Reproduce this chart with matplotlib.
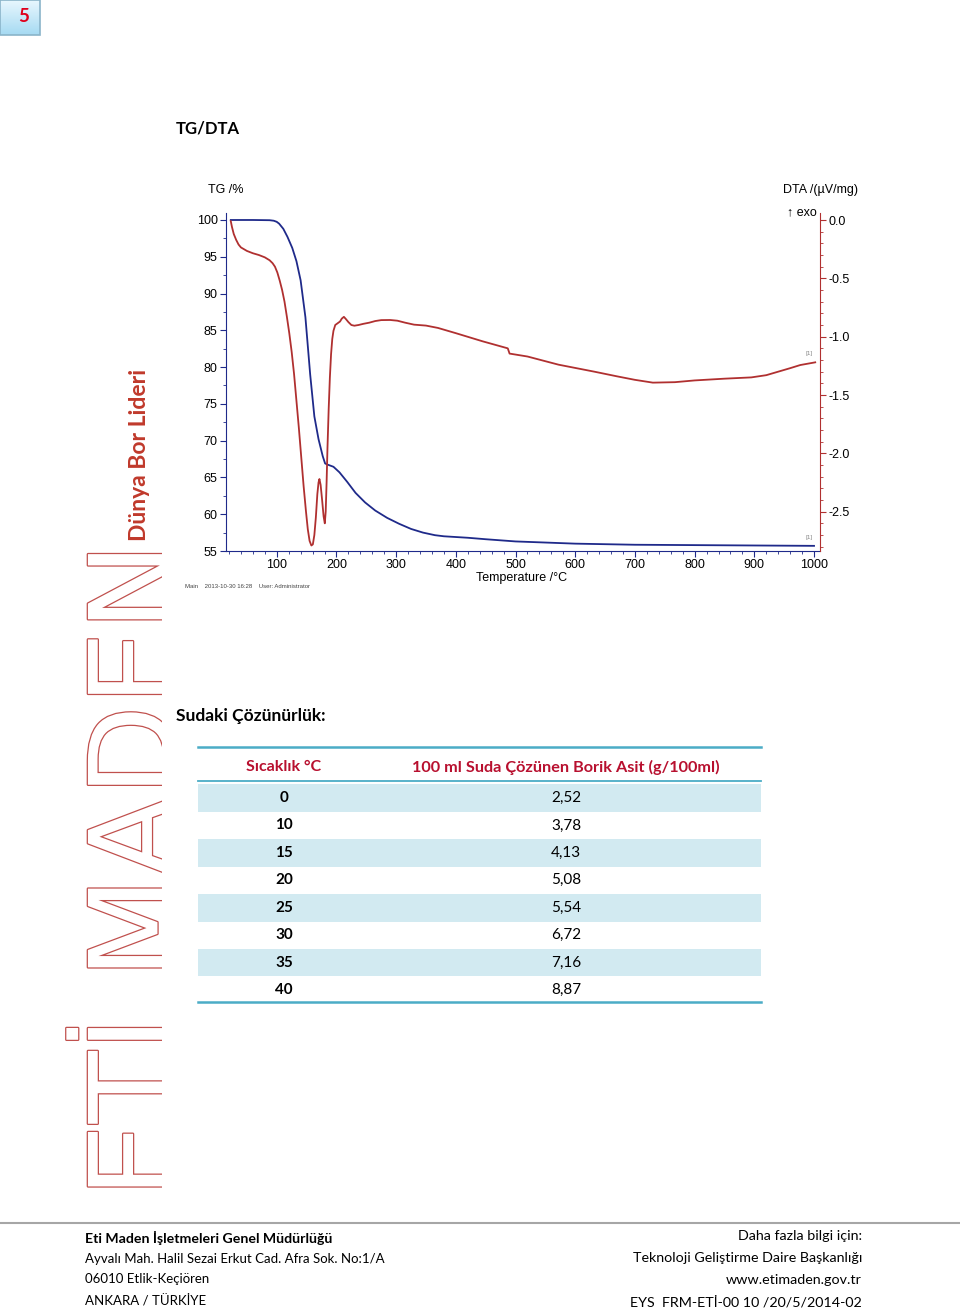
import matplotlib
matplotlib.use('Agg')
import matplotlib.pyplot as plt
import numpy as np
from matplotlib.patches import Rectangle
import matplotlib.patheffects as pe
from matplotlib.ticker import MultipleLocator, FormatStrFormatter

plt.rcParams['axes.unicode_minus'] = False

# TG curve (temperature degC, mass %)
tg_temp = [23, 60, 88, 95, 100, 104, 111, 118, 126, 133, 140, 148, 156, 163, 170, 177,
           181, 185, 195, 205, 218, 232, 248, 265, 285, 305, 325, 345, 365, 380, 420,
           450, 500, 550, 600, 700, 800, 900, 1000]
tg_mass = [100, 100, 99.97, 99.9, 99.75, 99.5, 98.8, 97.7, 96.2, 94.4, 91.8, 86.8, 79.0,
           73.3, 70.2, 67.9, 66.9, 66.75, 66.45, 65.7, 64.4, 62.9, 61.6, 60.5, 59.5, 58.7,
           58.0, 57.5, 57.15, 57.0, 56.8, 56.6, 56.3, 56.15, 56.0, 55.85, 55.8, 55.75, 55.7]

# DTA curve (temperature degC, uV/mg)
dta_temp = [23, 25, 28, 32, 36, 40, 50, 60, 70, 80, 88, 93, 97, 101, 105, 109, 113, 117,
            121, 125, 129, 133, 137, 141, 145, 149, 152, 155, 158, 160.5, 163, 165.5, 168,
            170, 171.5, 173.5, 176, 178.5, 180.5, 182, 183.5, 185, 187, 189, 191, 193, 195,
            198, 202, 206, 209, 212.5, 216, 220, 225, 230, 237, 245, 255, 265, 275, 290,
            302, 315, 330, 350, 370, 400, 445, 487, 490, 520, 572, 632, 670, 700, 730, 767,
            800, 850, 895, 920, 940, 960, 977, 1002]
dta_val = [-0.01, -0.06, -0.12, -0.17, -0.21, -0.235, -0.265, -0.285, -0.30, -0.32, -0.345,
           -0.37, -0.40, -0.45, -0.52, -0.6, -0.7, -0.83, -0.97, -1.13, -1.32, -1.55, -1.78,
           -2.03, -2.28, -2.5, -2.65, -2.75, -2.79, -2.78, -2.7, -2.55, -2.35, -2.25, -2.22,
           -2.27, -2.4, -2.54, -2.6, -2.5, -2.25, -1.95, -1.62, -1.35, -1.15, -1.02, -0.95,
           -0.9, -0.885, -0.87, -0.845, -0.83, -0.85, -0.875, -0.9, -0.906, -0.9, -0.89,
           -0.88, -0.866, -0.858, -0.857, -0.863, -0.88, -0.897, -0.905, -0.925, -0.97,
           -1.04, -1.10, -1.145, -1.17, -1.24, -1.30, -1.34, -1.37, -1.394, -1.39, -1.375,
           -1.36, -1.349, -1.33, -1.30, -1.27, -1.243, -1.22]

# solubility table
sol_temp = [0, 10, 15, 20, 25, 30, 35, 40]
sol_value = [2.52, 3.78, 4.13, 5.08, 5.54, 6.72, 7.16, 8.87]
table_head = ['Sıcaklık °C', '100 ml Suda Çözünen Borik Asit (g/100ml)']

footer_left = ['Eti Maden İşletmeleri Genel Müdürlüğü',
               'Ayvalı Mah. Halil Sezai Erkut Cad. Afra Sok. No:1/A',
               '06010 Etlik-Keçiören',
               'ANKARA / TÜRKİYE']
footer_right = ['Daha fazla bilgi için:',
                'Teknoloji Geliştirme Daire Başkanlığı',
                'www.etimaden.gov.tr',
                'EYS  FRM-ETİ-00 10 /20/5/2014-02']

BODY = ['Lato', 'DejaVu Sans']
ARIAL = ['Liberation Sans', 'DejaVu Sans']
NAVY = '#1f2a8a'
RED = '#b03030'
TEAL = '#4bacc6'
SHADE = '#d2eaf1'
HEAD_RED = '#b8102f'

fig = plt.figure(figsize=(9.6, 13.1), dpi=100)

# page layer in pixel coordinates
page = fig.add_axes([0, 0, 1, 1])
page.axis('off')

# page number box
grad = np.linspace(0, 1, 50).reshape(-1, 1)
page.imshow(grad, extent=(0, 40, 35, 0), cmap=matplotlib.colors.LinearSegmentedColormap.from_list(
    'b', ['#e8f7fe', '#a6daf2']), aspect='auto', zorder=1)
page.add_patch(Rectangle((0, 0), 40, 35, fill=False, ec='#8ab4c9', lw=1.2, zorder=2))
page.text(24, 17, '5', color='#e0001b', fontsize=13.5, fontweight='bold', family=BODY,
          ha='center', va='center', zorder=3)
page.set_xlim(0, 960)
page.set_ylim(1310, 0)

page.text(176, 129, 'TG/DTA', fontsize=12, fontweight='bold', family=BODY, va='center')
page.text(176, 716, 'Sudaki Çözünürlük:', fontsize=12.5, fontweight='bold', family=BODY,
          va='center')

# table
x0, x1 = 198, 761
col1, col2 = 284, 566
row_h = 27.45
first_row = 798
page.text(col1, 767, table_head[0], color=HEAD_RED, fontsize=11.5, fontweight='bold',
          family=BODY, ha='center', va='center')
page.text(col2, 767, table_head[1], color=HEAD_RED, fontsize=11.7, fontweight='bold',
          family=BODY, ha='center', va='center')
for i, (t, v) in enumerate(zip(sol_temp, sol_value)):
    yc = first_row + i * row_h
    if i % 2 == 0:
        page.add_patch(Rectangle((x0, yc - row_h / 2), x1 - x0, row_h, color=SHADE, lw=0))
    page.text(col1, yc, str(t), fontsize=11, fontweight='bold', family=BODY,
              ha='center', va='center')
    page.text(col2, yc, f'{v:.2f}'.replace('.', ','), fontsize=11, family=BODY,
              ha='center', va='center')
page.plot([x0, x1], [747, 747], color=TEAL, lw=1.8)
page.plot([x0, x1], [781, 781], color=TEAL, lw=1.3)
page.plot([x0, x1], [1002, 1002], color=TEAL, lw=1.8)

# footer
page.plot([0, 960], [1223, 1223], color='#a6a6a6', lw=1.5)
for i, s in enumerate(footer_left):
    bold = i == 0
    page.text(85, 1238 + i * 20.7, s, fontsize=10.2 if bold else 9.5, family=BODY,
              va='center', fontweight='bold' if bold else 'normal')
for i, s in enumerate(footer_right):
    page.text(862, 1236 + i * 22, s, fontsize=10.3, family=BODY, va='center', ha='right')

# vertical logo strip
logo = fig.add_axes([0, 0, 162 / 960, 1])
logo.set_xlim(0, 162)
logo.set_ylim(1310, 0)
logo.axis('off')
logo.patch.set_alpha(0)
logo.text(174, 1198, 'ETİ MADEN', rotation=90, rotation_mode='anchor', ha='left',
          va='baseline', fontsize=85, family='DejaVu Sans', color='white', clip_on=True,
          path_effects=[pe.withStroke(linewidth=1.8, foreground='#c0504d')])
logo.text(146, 541, 'Dünya Bor Lideri', rotation=90, rotation_mode='anchor', ha='left',
          va='baseline', fontsize=16.5, fontweight='bold', family=BODY, color='#c0392b')

# TG/DTA chart
ax = fig.add_axes([226 / 960, 1 - 551 / 1310, (820 - 226) / 960, (551 - 213) / 1310])
ax.patch.set_alpha(0)
ax.plot(tg_temp, tg_mass, color=NAVY, lw=1.3)
ax.set_xlim(15, 1010)
ax.set_ylim(55, 100.95)
ax.spines['top'].set_visible(False)
ax.spines['right'].set_visible(False)
ax.spines['left'].set_color(NAVY)
ax.spines['bottom'].set_color(NAVY)
ax.set_xticks(range(100, 1001, 100))
ax.xaxis.set_minor_locator(MultipleLocator(20))
ax.yaxis.set_major_locator(MultipleLocator(5))
ax.yaxis.set_minor_locator(MultipleLocator(2.5))
ax.tick_params(axis='both', which='major', length=4, color=NAVY, labelsize=9, pad=2)
ax.tick_params(axis='both', which='minor', length=2, color=NAVY)
for lab in ax.get_xticklabels() + ax.get_yticklabels():
    lab.set_family(ARIAL)

ax2 = ax.twinx()
ax2.plot(dta_temp, dta_val, color=RED, lw=1.3)
ax2.set_ylim(-2.837, 0.06)
for s in ['top', 'left', 'bottom']:
    ax2.spines[s].set_visible(False)
ax2.spines['right'].set_color(RED)
ax2.yaxis.set_major_locator(MultipleLocator(0.5))
ax2.yaxis.set_minor_locator(MultipleLocator(0.1))
ax2.yaxis.set_major_formatter(FormatStrFormatter('%.1f'))
ax2.tick_params(axis='y', which='major', length=4, color=RED, labelsize=9, pad=2)
ax2.tick_params(axis='y', which='minor', length=2, color=RED)
for lab in ax2.get_yticklabels():
    lab.set_family(ARIAL)

page.text(208, 190, 'TG /%', fontsize=9, family=ARIAL, va='center')
page.text(858, 190, 'DTA /(µV/mg)', fontsize=9, family=ARIAL, va='center', ha='right')
page.text(787, 212, '↑ exo', fontsize=9, family=ARIAL, va='center')
page.text(522, 578, 'Temperature /°C', fontsize=9, family=ARIAL, va='center', ha='center')
page.text(185, 587, 'Main    2013-10-30 16:28    User: Administrator', fontsize=4.3,
          family=ARIAL, va='center', color='#444444')
page.text(806, 353, '[1]', fontsize=4.5, family=ARIAL, va='center', color='#888888')
page.text(806, 537, '[1]', fontsize=4.5, family=ARIAL, va='center', color='#888888')

fig.savefig('out.png', dpi=100)
